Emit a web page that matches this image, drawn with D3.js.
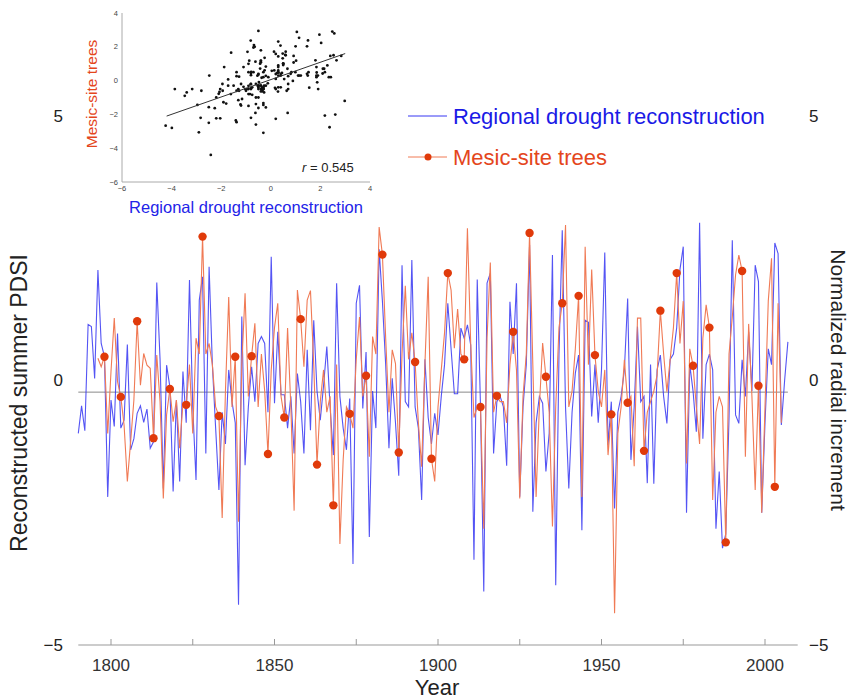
<!DOCTYPE html>
<html>
<head>
<meta charset="utf-8">
<script src="https://cdn.jsdelivr.net/npm/d3@7"></script>
<style>
  body { margin: 0; background: #fff; }
  text { font-family: "Liberation Sans", Arial, sans-serif; }
</style>
</head>
<body>
<svg id="chart" width="854" height="699"></svg>
<script>
// regional drought reconstruction (PDSI), one value per year from 1790
var droughtStart = 1790;
var droughtValues = [
  -1.0, -0.48, -0.95, 1.06, 1.02, 0.04, 2.09, 0.7, 0.45, -2.2,      // 1790-1799
  -0.37, -0.87, 0.89, -0.9, -0.75, 0.68, -1.31, -1.1, -0.62, -0.48, // 1800s
  -0.79, -0.54, -1.28, -1.16, 1.85, 0.4, -2.04, 0.29, -0.12, -2.1,  // 1810s
  -0.37, -1.91, 0.17, -0.8, 1.9, -0.5, -1.88, 1.52, 1.96, -1.38,    // 1820s
  2.15, 0.3, -0.9, -2.07, -0.6, -1.2, 0.2, -0.4, -0.8, -4.24,       // 1830s
  1.21, -1.6, -0.5, 0.26, -0.4, 0.7, 0.83, 0.7, -0.6, 2.34,         // 1840s
  -0.43, 0.92, -0.27, -0.27, -0.9, -0.3, -1.38, 0.13, -0.4, -1.38,  // 1850s
  0.58, -0.94, 1.14, -0.2, -0.75, -0.1, 0.64, -0.5, -1.41, 1.84,    // 1860s
  -0.3, -0.9, -1.31, -0.34, -3.47, 1.46, 1.8, -0.53, 0.54, -2.96,   // 1870s
  -0.2, -0.9, 2.48, 1.5, 0.3, -1.28, 0.04, -0.8, -1.8, 2.18,        // 1880s
  -0.4, -0.5, 2.28, -0.5, -0.9, -2.26, 0.4, -0.7, -1.2, -0.62,      // 1890s
  -1.03, -0.3, 0.3, 1.46, 0.6, -0.25, -0.25, 0.99, 0.8, 1.05,       // 1900s
  0.67, -3.39, 1.91, -0.5, -3.99, 1.84, 2.03, -1.38, -0.4, -0.3,    // 1910s
  -0.5, -1.61, 1.49, 0.5, 1.84, -2.2, -0.5, 0.3, 2.56, -2.48,       // 1920s
  -0.8, -0.3, -0.43, -1.72, -1.0, 2.37, -3.87, 0.5, 2.84, -0.5,     // 1930s
  -2.04, -0.6, 0.14, 0.48, -2.83, 1.14, 1.1, -0.68, 0.3, -0.8,      // 1940s
  0.2, 2.42, -1.22, -0.4, -2.42, -0.6, -0.3, 0.2, 1.55, -1.5,       // 1950s
  -0.5, 1.02, -0.4, -0.3, -1.94, 0.3, -1.95, 0.2, 0.48, -0.3,       // 1960s
  -0.81, 0.4, 0.5, 1.0, 2.1, 2.53, -2.5, 0.3, -0.2, -0.97,          // 1970s
  2.98, -1.1, 0.3, 0.5, 0.2, -2.8, -1.72, -3.17, -2.9, -0.7,        // 1980s
  2.65, -0.65, -0.81, 0.39, -0.3, 0.92, -0.2, 2.18, 1.87, -2.5,     // 1990s
  -0.8, 0.6, 0.3, 2.6, 2.4, -0.84, 0.0, 0.73                         // 2000-2007
];

// mesic-site trees (normalized radial increment), one value per year from 1796
var mesicStart = 1796;
var mesicValues = [
  0.42, 0.26, 0.45, -1.0,                                            // 1796-1799
  0.17, 1.18, -0.02, -0.31, -0.84, -1.91, -1.16, -0.37, 1.12, -0.09, // 1800s
  0.51, 0.29, 0.23, -1.09, 0.48, -0.4, -2.23, -0.65, -0.16, -0.78,   // 1810s
  -0.37, -1.28, -0.43, -0.46, 0.3, -1.0, 0.8, 0.5, 2.72, 0.5,        // 1820s
  0.7, 0.3, -0.5, -0.67, -2.6, -0.2, 1.58, -0.5, 0.45, -2.67,        // 1830s
  0.3, 1.65, -0.3, 0.46, 1.08, -0.5, 0.5, -0.2, -1.39, 0.2,          // 1840s
  1.0, 1.46, -0.3, -0.7, 0.99, -0.5, -2.46, 1.71, 1.16, 0.26,        // 1850s
  1.52, 1.7, 0.3, -1.59, -0.4, 0.2, -0.6, -0.3, -2.36, 0.3,          // 1860s
  -3.09, -1.5, -0.5, -0.63, -0.9, 0.4, 1.2, -0.3, 0.09, -1.44,       // 1870s
  0.83, 0.5, 2.9, 2.38, 0.8, -0.6, 0.58, 0.32, -1.36, 0.5,           // 1880s
  1.79, 0.4, 0.9, 0.35, -0.8, -1.63, 0.3, 1.96, -1.48, -1.91,        // 1890s
  -0.5, 0.2, 0.9, 2.03, 1.71, 0.61, 1.35, 0.5, 0.4, 2.88,            // 1900s
  0.7, -0.7, -0.5, -0.5, -2.8, 0.8, 2.23, -0.6, -0.29, -0.4,         // 1910s
  -0.4, -0.8, 0.3, 0.92, 0.2, -2.23, -0.3, 0.5, 2.79, 0.3,           // 1920s
  -2.2, -0.5, 0.71, 0.07, -0.6, -2.76, -0.5, 1.0, 1.46, 2.94,        // 1930s
  -0.5, -0.2, 0.6, 1.6, -2.2, 2.53, 0.3, 2.1, 0.48, -0.2,            // 1940s
  -0.5, 0.2, -1.41, -0.64, -4.4, -1.0, -0.5, 0.39, -0.42, -0.3,      // 1950s
  -1.62, 1.18, 1.18, -1.33, -0.6, -0.4, -0.2, 0.1, 1.32, 0.5,        // 1960s
  -0.21, 0.4, 1.0, 2.03, 0.7, 1.5, -1.57, 0.6, 0.28, -0.5,           // 1970s
  -1.2, 0.8, 1.43, 1.0, -2.26, -0.6, -0.3, -0.5, -3.06, 0.5,         // 1980s
  1.2, 2.0, 2.37, 2.07, -1.44, 1.07, -0.3, -2.07, -0.1, -2.5,        // 1990s
  -0.5, 1.5, 2.31, -2.01, 1.46, -0.8                                 // 2000-2005
];

var yTicks = [-5, 0, 5];
var xTicks = [1800, 1850, 1900, 1950, 2000];
var xMinorTicks = [1825, 1875, 1925, 1975];
var insetTicks = [-6, -4, -2, 0, 2, 4];
var zeroLine = -0.22;
var rText = "0.545";
// fitted line of the inset, read at its two ends
var fitX = [-4.2, 3.0];
var fitY = [-2.1, 1.6];

var blue = "#3636f2";
var orangeLine = "#f07a55";
var orangeDot = "#e03a0a";

var drought = droughtValues.map(function(v, i) { return { year: droughtStart + i, value: v }; });
var mesic = mesicValues.map(function(v, i) { return { year: mesicStart + i, value: v }; });

var svg = d3.select("#chart");

// main chart scales
var x = d3.scaleLinear().domain([1790, 2010]).range([78.3, 797.7]);
var y = d3.scaleLinear().domain([-5, 5]).range([645, 116]);

var fmt = function(d) { return d < 0 ? "\u2212" + Math.abs(d) : d; };

// x axis
var xAxis = svg.append("g").attr("transform", "translate(0," + y(-5) + ")");
xAxis.append("line")
  .attr("x1", x(1790)).attr("x2", x(2010))
  .attr("stroke", "#999").attr("stroke-width", 1);
xAxis.selectAll(".tk")
  .data(xTicks.concat(xMinorTicks))
  .enter().append("line")
  .attr("x1", function(d) { return x(d); })
  .attr("x2", function(d) { return x(d); })
  .attr("y1", 0).attr("y2", -6)
  .attr("stroke", "#999");
xAxis.selectAll(".lb")
  .data(xTicks)
  .enter().append("text")
  .attr("x", function(d) { return x(d); })
  .attr("y", 26)
  .attr("text-anchor", "middle")
  .style("font-size", "17px")
  .attr("fill", "#333")
  .text(function(d) { return d; });

svg.append("text")
  .attr("x", 437).attr("y", 695)
  .attr("text-anchor", "middle")
  .style("font-size", "22px")
  .attr("fill", "#222")
  .text("Year");

// y tick labels, both sides
svg.selectAll(".yl")
  .data(yTicks)
  .enter().append("text")
  .attr("x", 63)
  .attr("y", function(d) { return y(d); })
  .attr("dy", "0.35em")
  .attr("text-anchor", "end")
  .style("font-size", "17px")
  .attr("fill", "#222")
  .text(fmt);
svg.selectAll(".yr")
  .data(yTicks)
  .enter().append("text")
  .attr("x", 809)
  .attr("y", function(d) { return y(d); })
  .attr("dy", "0.35em")
  .attr("text-anchor", "start")
  .style("font-size", "17px")
  .attr("fill", "#222")
  .text(fmt);

svg.append("text")
  .attr("transform", "translate(27,403) rotate(-90)")
  .attr("text-anchor", "middle")
  .style("font-size", "23px")
  .attr("fill", "#222")
  .text("Reconstructed summer PDSI");
svg.append("text")
  .attr("transform", "translate(831,380) rotate(90)")
  .attr("text-anchor", "middle")
  .style("font-size", "21px")
  .attr("fill", "#222")
  .text("Normalized radial increment");

// zero reference line
svg.append("line")
  .attr("x1", x(1790)).attr("x2", x(2007))
  .attr("y1", y(zeroLine)).attr("y2", y(zeroLine))
  .attr("stroke", "#8a8a8a").attr("stroke-width", 1);

var line = d3.line()
  .x(function(d) { return x(d.year); })
  .y(function(d) { return y(d.value); });

svg.append("path")
  .datum(drought)
  .attr("d", line)
  .attr("fill", "none")
  .attr("stroke", blue)
  .attr("stroke-width", 1.1)
  .attr("stroke-opacity", 0.85);

svg.append("path")
  .datum(mesic)
  .attr("d", line)
  .attr("fill", "none")
  .attr("stroke", orangeLine)
  .attr("stroke-width", 1.1);

svg.selectAll(".dot")
  .data(mesic.filter(function(d) { return d.year % 5 === 3; }))
  .enter().append("circle")
  .attr("cx", function(d) { return x(d.year); })
  .attr("cy", function(d) { return y(d.value); })
  .attr("r", 4.2)
  .attr("fill", orangeDot);

// legend
var legend = svg.append("g");
legend.append("line")
  .attr("x1", 408).attr("x2", 447).attr("y1", 116).attr("y2", 116)
  .attr("stroke", blue).attr("stroke-width", 1);
legend.append("text")
  .attr("x", 453).attr("y", 116).attr("dy", "0.35em")
  .style("font-size", "22px")
  .attr("fill", "#1a1ae6")
  .text("Regional drought reconstruction");
legend.append("line")
  .attr("x1", 408).attr("x2", 447).attr("y1", 157).attr("y2", 157)
  .attr("stroke", orangeLine).attr("stroke-width", 1);
legend.append("circle")
  .attr("cx", 428).attr("cy", 157).attr("r", 3.5)
  .attr("fill", orangeDot);
legend.append("text")
  .attr("x", 453).attr("y", 157).attr("dy", "0.35em")
  .style("font-size", "22px")
  .attr("fill", "#e4461c")
  .text("Mesic-site trees");

// inset scatter: drought vs mesic for the common years
var pairs = mesic.map(function(d) {
  return { x: drought[d.year - droughtStart].value, y: d.value };
});

var ix = d3.scaleLinear().domain([-6, 4]).range([122, 370]);
var iy = d3.scaleLinear().domain([-6, 4]).range([182, 13]);

var inset = svg.append("g");
inset.append("line")
  .attr("x1", ix(-6)).attr("x2", ix(4)).attr("y1", iy(-6)).attr("y2", iy(-6))
  .attr("stroke", "#aaa");
inset.append("line")
  .attr("x1", ix(-6)).attr("x2", ix(-6)).attr("y1", iy(-6)).attr("y2", iy(4))
  .attr("stroke", "#aaa");
inset.selectAll(".ixt")
  .data(insetTicks)
  .enter().append("text")
  .attr("x", function(d) { return ix(d); })
  .attr("y", iy(-6) + 9)
  .attr("text-anchor", "middle")
  .style("font-size", "7.5px")
  .attr("fill", "#444")
  .text(fmt);
inset.selectAll(".iyt")
  .data(insetTicks)
  .enter().append("text")
  .attr("x", ix(-6) - 4)
  .attr("y", function(d) { return iy(d); })
  .attr("dy", "0.35em")
  .attr("text-anchor", "end")
  .style("font-size", "7.5px")
  .attr("fill", "#444")
  .text(fmt);

inset.selectAll(".pt")
  .data(pairs)
  .enter().append("circle")
  .attr("cx", function(d) { return ix(d.x); })
  .attr("cy", function(d) { return iy(d.y); })
  .attr("r", 1.4)
  .attr("fill", "#111");

inset.append("line")
  .attr("x1", ix(fitX[0])).attr("y1", iy(fitY[0]))
  .attr("x2", ix(fitX[1])).attr("y2", iy(fitY[1]))
  .attr("stroke", "#333").attr("stroke-width", 1);

var rt = inset.append("text")
  .attr("x", 302).attr("y", 172)
  .style("font-size", "13px")
  .attr("fill", "#222");
rt.append("tspan").style("font-style", "italic").text("r");
rt.append("tspan").text(" = " + rText);

inset.append("text")
  .attr("transform", "translate(97,94) rotate(-90)")
  .attr("text-anchor", "middle")
  .style("font-size", "15.5px")
  .attr("fill", "#e4461c")
  .text("Mesic-site trees");
inset.append("text")
  .attr("x", 246).attr("y", 213)
  .attr("text-anchor", "middle")
  .style("font-size", "16.5px")
  .attr("fill", "#2323e8")
  .text("Regional drought reconstruction");
</script>
</body>
</html>
